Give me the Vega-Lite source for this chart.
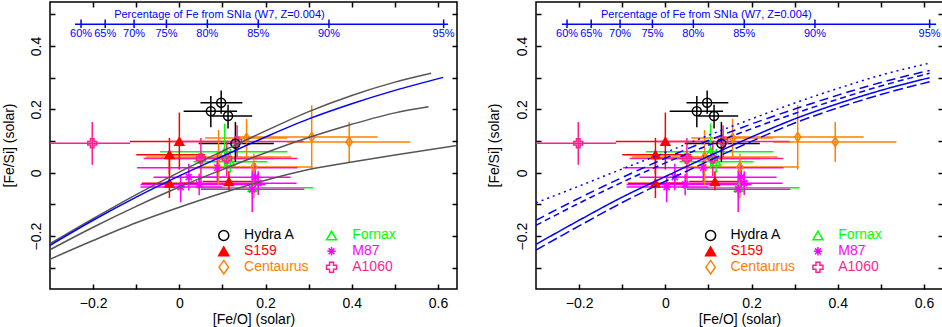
{
"$schema": "https://vega.github.io/schema/vega-lite/v6.json",
"background": "white",
"padding": {"left": 1, "top": 0, "right": 0, "bottom": 0},
"autosize": {"type": "pad"},
"config": {
  "font": "Liberation Sans",
  "view": {"stroke": "black", "strokeWidth": 1.5},
  "axis": {"domain": false, "grid": false, "tickColor": "black", "tickWidth": 1.5, "tickSize": -5, "labelFontSize": 14, "labelColor": "black", "labelFont": "Liberation Sans", "titleFont": "Liberation Sans", "titleFontSize": 14, "titleFontWeight": "normal", "titleColor": "black", "labelFlush": false, "labelOverlap": false},
  "text": {"font": "Liberation Sans"}
},
"datasets": {
  "pts": [
    {"c":"Fornax","x":0.105,"y":0.066,"xlo":-0.045,"xhi":0.250,"ylo":0.013,"yhi":0.155},
    {"c":"Fornax","x":0.118,"y":0.035,"xlo":0.033,"xhi":0.204,"ylo":0.000,"yhi":0.075},
    {"c":"Fornax","x":0.170,"y":-0.047,"xlo":0.040,"xhi":0.310,"ylo":-0.085,"yhi":-0.005},
    {"c":"Centaurus","x":0.307,"y":0.113,"xlo":0.140,"xhi":0.460,"ylo":0.010,"yhi":0.213},
    {"c":"Centaurus","x":0.394,"y":0.097,"xlo":0.250,"xhi":0.536,"ylo":0.034,"yhi":0.160},
    {"c":"Centaurus","x":0.156,"y":0.110,"xlo":0.060,"xhi":0.250,"ylo":0.050,"yhi":0.170},
    {"c":"Centaurus","x":0.173,"y":0.018,"xlo":0.040,"xhi":0.309,"ylo":-0.080,"yhi":0.060},
    {"c":"Centaurus","x":0.091,"y":0.050,"xlo":-0.077,"xhi":0.260,"ylo":-0.040,"yhi":0.135},
    {"c":"M87","x":0.003,"y":-0.045,"xlo":-0.090,"xhi":0.100,"ylo":-0.093,"yhi":-0.008},
    {"c":"M87","x":0.046,"y":-0.037,"xlo":-0.090,"xhi":0.200,"ylo":-0.071,"yhi":-0.003},
    {"c":"M87","x":0.176,"y":-0.014,"xlo":0.022,"xhi":0.258,"ylo":-0.060,"yhi":0.030},
    {"c":"M87","x":0.183,"y":-0.033,"xlo":0.000,"xhi":0.272,"ylo":-0.070,"yhi":0.005},
    {"c":"M87","x":0.169,"y":-0.052,"xlo":0.050,"xhi":0.290,"ylo":-0.124,"yhi":0.008},
    {"c":"M87","x":0.088,"y":0.016,"xlo":-0.098,"xhi":0.274,"ylo":-0.030,"yhi":0.060},
    {"c":"M87","x":0.022,"y":-0.014,"xlo":-0.060,"xhi":0.110,"ylo":-0.056,"yhi":0.028},
    {"c":"S159","x":0.000,"y":0.099,"xlo":-0.115,"xhi":0.115,"ylo":0.010,"yhi":0.190},
    {"c":"S159","x":-0.023,"y":0.057,"xlo":-0.100,"xhi":0.060,"ylo":-0.005,"yhi":0.110},
    {"c":"S159","x":-0.023,"y":-0.033,"xlo":-0.087,"xhi":0.041,"ylo":-0.080,"yhi":0.045},
    {"c":"S159","x":0.115,"y":-0.028,"xlo":0.055,"xhi":0.190,"ylo":-0.055,"yhi":0.005},
    {"c":"A1060","x":-0.202,"y":0.093,"xlo":-0.300,"xhi":-0.114,"ylo":0.025,"yhi":0.160},
    {"c":"A1060","x":0.134,"y":0.099,"xlo":-0.020,"xhi":0.288,"ylo":0.050,"yhi":0.150},
    {"c":"A1060","x":0.050,"y":0.045,"xlo":-0.083,"xhi":0.220,"ylo":-0.030,"yhi":0.110},
    {"c":"A1060","x":0.110,"y":0.045,"xlo":-0.030,"xhi":0.274,"ylo":-0.010,"yhi":0.100},
    {"c":"Hydra A","x":0.073,"y":0.194,"xlo":0.010,"xhi":0.134,"ylo":0.144,"yhi":0.242},
    {"c":"Hydra A","x":0.097,"y":0.221,"xlo":0.049,"xhi":0.146,"ylo":0.186,"yhi":0.260},
    {"c":"Hydra A","x":0.113,"y":0.179,"xlo":0.076,"xhi":0.169,"ylo":0.140,"yhi":0.215},
    {"c":"Hydra A","x":0.130,"y":0.092,"xlo":0.045,"xhi":0.219,"ylo":0.034,"yhi":0.160}
  ],
  "pct": [
    {"p":"60%","f":-0.228},{"p":"65%","f":-0.172},{"p":"70%","f":-0.105},{"p":"75%","f":-0.030},
    {"p":"80%","f":0.065},{"p":"85%","f":0.183},{"p":"90%","f":0.347},{"p":"95%","f":0.613}
  ],
  "one": [{"k":1}],
  "blueL": [
    {"x":-0.3,"y":-0.229},{"x":-0.2,"y":-0.150},{"x":-0.1,"y":-0.077},{"x":0,"y":-0.010},{"x":0.1,"y":0.052},
    {"x":0.2,"y":0.113},{"x":0.3,"y":0.170},{"x":0.4,"y":0.218},{"x":0.5,"y":0.260},{"x":0.612,"y":0.301}
  ],
  "grayL": [
    {"s":"g1","x":-0.3,"y":-0.224},{"s":"g1","x":-0.2,"y":-0.145},{"s":"g1","x":-0.1,"y":-0.069},{"s":"g1","x":0,"y":0.002},{"s":"g1","x":0.1,"y":0.068},
    {"s":"g1","x":0.2,"y":0.132},{"s":"g1","x":0.3,"y":0.193},{"s":"g1","x":0.4,"y":0.244},{"s":"g1","x":0.5,"y":0.286},{"s":"g1","x":0.584,"y":0.314},
    {"s":"g2","x":-0.3,"y":-0.243},{"s":"g2","x":-0.2,"y":-0.172},{"s":"g2","x":-0.1,"y":-0.106},{"s":"g2","x":0,"y":-0.045},{"s":"g2","x":0.1,"y":0.010},
    {"s":"g2","x":0.2,"y":0.063},{"s":"g2","x":0.3,"y":0.111},{"s":"g2","x":0.4,"y":0.153},{"s":"g2","x":0.5,"y":0.189},{"s":"g2","x":0.578,"y":0.208},
    {"s":"g3","x":-0.3,"y":-0.273},{"s":"g3","x":-0.2,"y":-0.214},{"s":"g3","x":-0.1,"y":-0.158},{"s":"g3","x":0,"y":-0.109},{"s":"g3","x":0.1,"y":-0.064},
    {"s":"g3","x":0.2,"y":-0.024},{"s":"g3","x":0.3,"y":0.010},{"s":"g3","x":0.4,"y":0.034},{"s":"g3","x":0.5,"y":0.056},{"s":"g3","x":0.644,"y":0.086}
  ],
  "blueR": [
    {"s":"solid","x":-0.3,"y":-0.226},{"s":"solid","x":-0.2,"y":-0.150},{"s":"solid","x":-0.1,"y":-0.077},{"s":"solid","x":0,"y":-0.012},{"s":"solid","x":0.1,"y":0.052},
    {"s":"solid","x":0.2,"y":0.113},{"s":"solid","x":0.3,"y":0.170},{"s":"solid","x":0.4,"y":0.218},{"s":"solid","x":0.5,"y":0.260},{"s":"solid","x":0.613,"y":0.300},
    {"s":"dashedLow","x":-0.3,"y":-0.244},{"s":"dashedLow","x":-0.2,"y":-0.168},{"s":"dashedLow","x":-0.1,"y":-0.094},{"s":"dashedLow","x":0,"y":-0.027},{"s":"dashedLow","x":0.1,"y":0.037},
    {"s":"dashedLow","x":0.2,"y":0.099},{"s":"dashedLow","x":0.3,"y":0.157},{"s":"dashedLow","x":0.4,"y":0.205},{"s":"dashedLow","x":0.5,"y":0.247},{"s":"dashedLow","x":0.613,"y":0.287},
    {"s":"dashedHigh","x":-0.3,"y":-0.150},{"s":"dashedHigh","x":-0.2,"y":-0.080},{"s":"dashedHigh","x":-0.1,"y":-0.015},{"s":"dashedHigh","x":0,"y":0.046},{"s":"dashedHigh","x":0.1,"y":0.102},
    {"s":"dashedHigh","x":0.2,"y":0.154},{"s":"dashedHigh","x":0.3,"y":0.201},{"s":"dashedHigh","x":0.4,"y":0.245},{"s":"dashedHigh","x":0.5,"y":0.285},{"s":"dashedHigh","x":0.613,"y":0.323},
    {"s":"dashedMid","x":-0.3,"y":-0.166},{"s":"dashedMid","x":-0.2,"y":-0.096},{"s":"dashedMid","x":-0.1,"y":-0.030},{"s":"dashedMid","x":0,"y":0.031},{"s":"dashedMid","x":0.1,"y":0.087},
    {"s":"dashedMid","x":0.2,"y":0.139},{"s":"dashedMid","x":0.3,"y":0.187},{"s":"dashedMid","x":0.4,"y":0.232},{"s":"dashedMid","x":0.5,"y":0.274},{"s":"dashedMid","x":0.613,"y":0.314},
    {"s":"dottedHigh","x":-0.3,"y":-0.095},{"s":"dottedHigh","x":-0.2,"y":-0.042},{"s":"dottedHigh","x":-0.1,"y":0.012},{"s":"dottedHigh","x":0,"y":0.064},{"s":"dottedHigh","x":0.1,"y":0.118},
    {"s":"dottedHigh","x":0.2,"y":0.170},{"s":"dottedHigh","x":0.3,"y":0.220},{"s":"dottedHigh","x":0.4,"y":0.266},{"s":"dottedHigh","x":0.5,"y":0.308},{"s":"dottedHigh","x":0.613,"y":0.346}
  ]
},
"spacing": 27,
"resolve": {
  "scale": {"color": "independent", "stroke": "independent", "fill": "independent", "shape": "independent", "strokeDash": "independent"}
},
"hconcat": [
{
  "width": 407, "height": 287,
  "resolve": {"axis": {"x": "independent", "y": "independent"}},
  "layer": [
    {"data": {"name": "pts"}, "mark": {"type": "rule", "strokeWidth": 1.5, "clip": true},
     "encoding": {
       "x": {"field": "xlo", "type": "quantitative", "scale": {"domain": [-0.3, 0.644], "nice": false, "zero": false}, "axis": {"orient": "top", "values": [-0.2,-0.1,0,0.1,0.2,0.3,0.4,0.5,0.6], "labels": false, "title": null}},
       "x2": {"field": "xhi"},
       "y": {"field": "y", "type": "quantitative", "scale": {"domain": [-0.367, 0.539], "nice": false, "zero": false}, "axis": {"orient": "right", "values": [-0.3,-0.2,-0.1,0,0.1,0.2,0.3,0.4,0.5], "labels": false, "title": null}},
       "color": {"field": "c", "type": "nominal", "scale": {"domain": ["Hydra A","Fornax","S159","M87","Centaurus","A1060"], "range": ["#000000","#00ff00","#ff0000","#ff00ff","#ff8000","#ff1f8f"]}, "legend": null}
     }},
    {"data": {"name": "pts"}, "mark": {"type": "rule", "strokeWidth": 1.5, "clip": true},
     "encoding": {
       "x": {"field": "x", "type": "quantitative", "scale": {"domain": [-0.3, 0.644], "nice": false, "zero": false}, "axis": null},
       "y": {"field": "ylo", "type": "quantitative", "scale": {"domain": [-0.367, 0.539], "nice": false, "zero": false}, "axis": null},
       "y2": {"field": "yhi"},
       "color": {"field": "c", "type": "nominal", "scale": {"domain": ["Hydra A","Fornax","S159","M87","Centaurus","A1060"], "range": ["#000000","#00ff00","#ff0000","#ff00ff","#ff8000","#ff1f8f"]}, "legend": null}
     }},
    {"data": {"name": "pts"}, "mark": {"type": "point", "strokeWidth": 1.5, "size": 80, "opacity": 1, "clip": true},
     "encoding": {
       "x": {"field": "x", "type": "quantitative", "scale": {"domain": [-0.3, 0.644], "nice": false, "zero": false}, "axis": {"orient": "bottom", "values": [-0.2,-0.1,0,0.1,0.2,0.3,0.4,0.5,0.6], "labelPadding": 12, "labelExpr": "datum.value == 0 ? '0' : (abs(round(datum.value*10)) % 2 == 1 ? '' : format(datum.value, '.1f'))", "title": "[Fe/O] (solar)", "titleY": 30, "titleBaseline": "middle"}},
       "y": {"field": "y", "type": "quantitative", "scale": {"domain": [-0.367, 0.539], "nice": false, "zero": false}, "axis": {"orient": "left", "values": [-0.3,-0.2,-0.1,0,0.1,0.2,0.3,0.4,0.5], "labelAngle": -90, "labelAlign": "center", "labelBaseline": "bottom", "labelPadding": 12, "labelExpr": "datum.value == 0 ? '0' : (abs(round(datum.value*10)) % 2 == 1 ? '' : format(datum.value, '.1f'))", "title": "[Fe/Si] (solar)", "titleX": -41, "titleY": 143, "titleAngle": -90, "titleBaseline": "middle", "titleAlign": "center"}},
       "shape": {"field": "c", "type": "nominal", "scale": {"domain": ["Hydra A","Fornax","S159","M87","Centaurus","A1060"], "range": ["circle","triangle-up","triangle-up","M-1,0L1,0M0,-1L0,1M-0.7,-0.7L0.7,0.7M-0.7,0.7L0.7,-0.7","M0,-1L0.7,0L0,1L-0.7,0Z","cross"]}, "legend": null},
       "stroke": {"field": "c", "type": "nominal", "scale": {"domain": ["Hydra A","Fornax","S159","M87","Centaurus","A1060"], "range": ["#000000","#00ff00","#ff0000","#ff00ff","#ff8000","#ff1f8f"]}, "legend": null},
       "fill": {"field": "c", "type": "nominal", "scale": {"domain": ["Hydra A","Fornax","S159","M87","Centaurus","A1060"], "range": ["transparent","transparent","#ff0000","transparent","transparent","transparent"]}, "legend": null}
     }},
    {"data": {"name": "grayL"}, "mark": {"type": "line", "color": "#555555", "strokeWidth": 1.5, "interpolate": "monotone", "clip": true},
     "encoding": {
       "x": {"field": "x", "type": "quantitative", "scale": {"domain": [-0.3, 0.644], "nice": false, "zero": false}, "axis": null},
       "y": {"field": "y", "type": "quantitative", "scale": {"domain": [-0.367, 0.539], "nice": false, "zero": false}, "axis": null},
       "detail": {"field": "s", "type": "nominal"}
     }},
    {"data": {"name": "blueL"}, "mark": {"type": "line", "color": "#0000ff", "strokeWidth": 1.5, "interpolate": "monotone", "clip": true},
     "encoding": {
       "x": {"field": "x", "type": "quantitative", "scale": {"domain": [-0.3, 0.644], "nice": false, "zero": false}, "axis": null},
       "y": {"field": "y", "type": "quantitative", "scale": {"domain": [-0.367, 0.539], "nice": false, "zero": false}, "axis": null}
     }},
    {"data": {"name": "one"}, "mark": {"type": "rule", "color": "#0000ff", "strokeWidth": 1.5},
     "encoding": {
       "x": {"datum": -0.242, "type": "quantitative", "scale": {"domain": [-0.3, 0.644], "nice": false, "zero": false}, "axis": null},
       "x2": {"datum": 0.623},
       "y": {"datum": 0.4686, "type": "quantitative", "scale": {"domain": [-0.367, 0.539], "nice": false, "zero": false}, "axis": null}
     }},
    {"data": {"name": "pct"}, "mark": {"type": "rule", "color": "#0000ff", "strokeWidth": 1.5},
     "encoding": {
       "x": {"field": "f", "type": "quantitative", "scale": {"domain": [-0.3, 0.644], "nice": false, "zero": false}, "axis": null},
       "y": {"datum": 0.484, "type": "quantitative", "scale": {"domain": [-0.367, 0.539], "nice": false, "zero": false}, "axis": null},
       "y2": {"datum": 0.457}
     }},
    {"data": {"name": "pct"}, "mark": {"type": "text", "color": "#0000ff", "fontSize": 11, "baseline": "middle", "align": "center"},
     "encoding": {
       "x": {"field": "f", "type": "quantitative", "scale": {"domain": [-0.3, 0.644], "nice": false, "zero": false}, "axis": null},
       "y": {"datum": 0.438, "type": "quantitative", "scale": {"domain": [-0.367, 0.539], "nice": false, "zero": false}, "axis": null},
       "text": {"field": "p", "type": "nominal"}
     }},
    {"data": {"name": "one"}, "mark": {"type": "text", "color": "#0000ff", "fontSize": 11, "baseline": "middle", "align": "center", "text": "Percentage of Fe from SNIa (W7, Z=0.004)"},
     "encoding": {
       "x": {"datum": 0.093, "type": "quantitative", "scale": {"domain": [-0.3, 0.644], "nice": false, "zero": false}, "axis": null},
       "y": {"datum": 0.498, "type": "quantitative", "scale": {"domain": [-0.367, 0.539], "nice": false, "zero": false}, "axis": null}
     }},
    {"data": {"name": "one"}, "mark": {"type": "point", "shape": "circle", "stroke": "#000000", "fill": "transparent", "size": 100, "strokeWidth": 1.5, "opacity": 1},
     "encoding": {"x": {"datum": 0.103, "type": "quantitative", "scale": {"domain": [-0.3, 0.644], "nice": false, "zero": false}, "axis": null}, "y": {"datum": -0.198, "type": "quantitative", "scale": {"domain": [-0.367, 0.539], "nice": false, "zero": false}, "axis": null}}},
    {"data": {"name": "one"}, "mark": {"type": "point", "shape": "triangle-up", "stroke": "#ff0000", "fill": "#ff0000", "size": 100, "strokeWidth": 1.5, "opacity": 1},
     "encoding": {"x": {"datum": 0.103, "type": "quantitative", "scale": {"domain": [-0.3, 0.644], "nice": false, "zero": false}, "axis": null}, "y": {"datum": -0.248, "type": "quantitative", "scale": {"domain": [-0.367, 0.539], "nice": false, "zero": false}, "axis": null}}},
    {"data": {"name": "one"}, "mark": {"type": "point", "shape": "M0,-1L0.7,0L0,1L-0.7,0Z", "stroke": "#ff8000", "fill": "transparent", "size": 180, "strokeWidth": 1.5, "opacity": 1},
     "encoding": {"x": {"datum": 0.103, "type": "quantitative", "scale": {"domain": [-0.3, 0.644], "nice": false, "zero": false}, "axis": null}, "y": {"datum": -0.298, "type": "quantitative", "scale": {"domain": [-0.367, 0.539], "nice": false, "zero": false}, "axis": null}}},
    {"data": {"name": "one"}, "mark": {"type": "point", "shape": "triangle-up", "stroke": "#00ff00", "fill": "transparent", "size": 100, "strokeWidth": 1.5, "opacity": 1},
     "encoding": {"x": {"datum": 0.353, "type": "quantitative", "scale": {"domain": [-0.3, 0.644], "nice": false, "zero": false}, "axis": null}, "y": {"datum": -0.198, "type": "quantitative", "scale": {"domain": [-0.367, 0.539], "nice": false, "zero": false}, "axis": null}}},
    {"data": {"name": "one"}, "mark": {"type": "point", "shape": "M-1,0L1,0M0,-1L0,1M-0.7,-0.7L0.7,0.7M-0.7,0.7L0.7,-0.7", "stroke": "#ff00ff", "fill": "transparent", "size": 70, "strokeWidth": 1.5, "opacity": 1},
     "encoding": {"x": {"datum": 0.353, "type": "quantitative", "scale": {"domain": [-0.3, 0.644], "nice": false, "zero": false}, "axis": null}, "y": {"datum": -0.248, "type": "quantitative", "scale": {"domain": [-0.367, 0.539], "nice": false, "zero": false}, "axis": null}}},
    {"data": {"name": "one"}, "mark": {"type": "point", "shape": "cross", "stroke": "#ff1f8f", "fill": "transparent", "size": 100, "strokeWidth": 1.5, "opacity": 1},
     "encoding": {"x": {"datum": 0.353, "type": "quantitative", "scale": {"domain": [-0.3, 0.644], "nice": false, "zero": false}, "axis": null}, "y": {"datum": -0.298, "type": "quantitative", "scale": {"domain": [-0.367, 0.539], "nice": false, "zero": false}, "axis": null}}},
    {"data": {"name": "one"}, "mark": {"type": "text", "text": "Hydra A", "color": "#000000", "fontSize": 14, "align": "left", "baseline": "middle"},
     "encoding": {"x": {"datum": 0.150, "type": "quantitative", "scale": {"domain": [-0.3, 0.644], "nice": false, "zero": false}, "axis": null}, "y": {"datum": -0.198, "type": "quantitative", "scale": {"domain": [-0.367, 0.539], "nice": false, "zero": false}, "axis": null}}},
    {"data": {"name": "one"}, "mark": {"type": "text", "text": "S159", "color": "#ff0000", "fontSize": 14, "align": "left", "baseline": "middle"},
     "encoding": {"x": {"datum": 0.150, "type": "quantitative", "scale": {"domain": [-0.3, 0.644], "nice": false, "zero": false}, "axis": null}, "y": {"datum": -0.248, "type": "quantitative", "scale": {"domain": [-0.367, 0.539], "nice": false, "zero": false}, "axis": null}}},
    {"data": {"name": "one"}, "mark": {"type": "text", "text": "Centaurus", "color": "#ff8000", "fontSize": 14, "align": "left", "baseline": "middle"},
     "encoding": {"x": {"datum": 0.150, "type": "quantitative", "scale": {"domain": [-0.3, 0.644], "nice": false, "zero": false}, "axis": null}, "y": {"datum": -0.298, "type": "quantitative", "scale": {"domain": [-0.367, 0.539], "nice": false, "zero": false}, "axis": null}}},
    {"data": {"name": "one"}, "mark": {"type": "text", "text": "Fornax", "color": "#00ff00", "fontSize": 14, "align": "left", "baseline": "middle"},
     "encoding": {"x": {"datum": 0.401, "type": "quantitative", "scale": {"domain": [-0.3, 0.644], "nice": false, "zero": false}, "axis": null}, "y": {"datum": -0.198, "type": "quantitative", "scale": {"domain": [-0.367, 0.539], "nice": false, "zero": false}, "axis": null}}},
    {"data": {"name": "one"}, "mark": {"type": "text", "text": "M87", "color": "#ff00ff", "fontSize": 14, "align": "left", "baseline": "middle"},
     "encoding": {"x": {"datum": 0.401, "type": "quantitative", "scale": {"domain": [-0.3, 0.644], "nice": false, "zero": false}, "axis": null}, "y": {"datum": -0.248, "type": "quantitative", "scale": {"domain": [-0.367, 0.539], "nice": false, "zero": false}, "axis": null}}},
    {"data": {"name": "one"}, "mark": {"type": "text", "text": "A1060", "color": "#ff1f8f", "fontSize": 14, "align": "left", "baseline": "middle"},
     "encoding": {"x": {"datum": 0.401, "type": "quantitative", "scale": {"domain": [-0.3, 0.644], "nice": false, "zero": false}, "axis": null}, "y": {"datum": -0.298, "type": "quantitative", "scale": {"domain": [-0.367, 0.539], "nice": false, "zero": false}, "axis": null}}}
  ]
},
{
  "width": 407, "height": 287,
  "resolve": {"axis": {"x": "independent", "y": "independent"}},
  "layer": [
    {"data": {"name": "pts"}, "mark": {"type": "rule", "strokeWidth": 1.5, "clip": true},
     "encoding": {
       "x": {"field": "xlo", "type": "quantitative", "scale": {"domain": [-0.3, 0.644], "nice": false, "zero": false}, "axis": {"orient": "top", "values": [-0.2,-0.1,0,0.1,0.2,0.3,0.4,0.5,0.6], "labels": false, "title": null}},
       "x2": {"field": "xhi"},
       "y": {"field": "y", "type": "quantitative", "scale": {"domain": [-0.367, 0.539], "nice": false, "zero": false}, "axis": {"orient": "right", "values": [-0.3,-0.2,-0.1,0,0.1,0.2,0.3,0.4,0.5], "labels": false, "title": null}},
       "color": {"field": "c", "type": "nominal", "scale": {"domain": ["Hydra A","Fornax","S159","M87","Centaurus","A1060"], "range": ["#000000","#00ff00","#ff0000","#ff00ff","#ff8000","#ff1f8f"]}, "legend": null}
     }},
    {"data": {"name": "pts"}, "mark": {"type": "rule", "strokeWidth": 1.5, "clip": true},
     "encoding": {
       "x": {"field": "x", "type": "quantitative", "scale": {"domain": [-0.3, 0.644], "nice": false, "zero": false}, "axis": null},
       "y": {"field": "ylo", "type": "quantitative", "scale": {"domain": [-0.367, 0.539], "nice": false, "zero": false}, "axis": null},
       "y2": {"field": "yhi"},
       "color": {"field": "c", "type": "nominal", "scale": {"domain": ["Hydra A","Fornax","S159","M87","Centaurus","A1060"], "range": ["#000000","#00ff00","#ff0000","#ff00ff","#ff8000","#ff1f8f"]}, "legend": null}
     }},
    {"data": {"name": "pts"}, "mark": {"type": "point", "strokeWidth": 1.5, "size": 80, "opacity": 1, "clip": true},
     "encoding": {
       "x": {"field": "x", "type": "quantitative", "scale": {"domain": [-0.3, 0.644], "nice": false, "zero": false}, "axis": {"orient": "bottom", "values": [-0.2,-0.1,0,0.1,0.2,0.3,0.4,0.5,0.6], "labelPadding": 12, "labelExpr": "datum.value == 0 ? '0' : (abs(round(datum.value*10)) % 2 == 1 ? '' : format(datum.value, '.1f'))", "title": "[Fe/O] (solar)", "titleY": 30, "titleBaseline": "middle"}},
       "y": {"field": "y", "type": "quantitative", "scale": {"domain": [-0.367, 0.539], "nice": false, "zero": false}, "axis": {"orient": "left", "values": [-0.3,-0.2,-0.1,0,0.1,0.2,0.3,0.4,0.5], "labelAngle": -90, "labelAlign": "center", "labelBaseline": "bottom", "labelPadding": 12, "labelExpr": "datum.value == 0 ? '0' : (abs(round(datum.value*10)) % 2 == 1 ? '' : format(datum.value, '.1f'))", "title": "[Fe/Si] (solar)", "titleX": -42, "titleY": 143, "titleAngle": -90, "titleBaseline": "middle", "titleAlign": "center"}},
       "shape": {"field": "c", "type": "nominal", "scale": {"domain": ["Hydra A","Fornax","S159","M87","Centaurus","A1060"], "range": ["circle","triangle-up","triangle-up","M-1,0L1,0M0,-1L0,1M-0.7,-0.7L0.7,0.7M-0.7,0.7L0.7,-0.7","M0,-1L0.7,0L0,1L-0.7,0Z","cross"]}, "legend": null},
       "stroke": {"field": "c", "type": "nominal", "scale": {"domain": ["Hydra A","Fornax","S159","M87","Centaurus","A1060"], "range": ["#000000","#00ff00","#ff0000","#ff00ff","#ff8000","#ff1f8f"]}, "legend": null},
       "fill": {"field": "c", "type": "nominal", "scale": {"domain": ["Hydra A","Fornax","S159","M87","Centaurus","A1060"], "range": ["transparent","transparent","#ff0000","transparent","transparent","transparent"]}, "legend": null}
     }},
    {"data": {"name": "blueR"}, "mark": {"type": "line", "color": "#0000ff", "strokeWidth": 1.5, "interpolate": "monotone", "clip": true},
     "encoding": {
       "x": {"field": "x", "type": "quantitative", "scale": {"domain": [-0.3, 0.644], "nice": false, "zero": false}, "axis": null},
       "y": {"field": "y", "type": "quantitative", "scale": {"domain": [-0.367, 0.539], "nice": false, "zero": false}, "axis": null},
       "strokeDash": {"field": "s", "type": "nominal", "scale": {"domain": ["solid","dashedLow","dashedHigh","dashedMid","dottedHigh"], "range": [[1,0],[10,4],[9,5],[6,4],[2,4]]}, "legend": null}
     }},
    {"data": {"name": "one"}, "mark": {"type": "rule", "color": "#0000ff", "strokeWidth": 1.5},
     "encoding": {
       "x": {"datum": -0.240, "type": "quantitative", "scale": {"domain": [-0.3, 0.644], "nice": false, "zero": false}, "axis": null},
       "x2": {"datum": 0.628},
       "y": {"datum": 0.4686, "type": "quantitative", "scale": {"domain": [-0.367, 0.539], "nice": false, "zero": false}, "axis": null}
     }},
    {"data": {"name": "pct"}, "mark": {"type": "rule", "color": "#0000ff", "strokeWidth": 1.5},
     "encoding": {
       "x": {"field": "f", "type": "quantitative", "scale": {"domain": [-0.3, 0.644], "nice": false, "zero": false}, "axis": null},
       "y": {"datum": 0.484, "type": "quantitative", "scale": {"domain": [-0.367, 0.539], "nice": false, "zero": false}, "axis": null},
       "y2": {"datum": 0.457}
     }},
    {"data": {"name": "pct"}, "mark": {"type": "text", "color": "#0000ff", "fontSize": 11, "baseline": "middle", "align": "center"},
     "encoding": {
       "x": {"field": "f", "type": "quantitative", "scale": {"domain": [-0.3, 0.644], "nice": false, "zero": false}, "axis": null},
       "y": {"datum": 0.438, "type": "quantitative", "scale": {"domain": [-0.367, 0.539], "nice": false, "zero": false}, "axis": null},
       "text": {"field": "p", "type": "nominal"}
     }},
    {"data": {"name": "one"}, "mark": {"type": "text", "color": "#0000ff", "fontSize": 11, "baseline": "middle", "align": "center", "text": "Percentage of Fe from SNIa (W7, Z=0.004)"},
     "encoding": {
       "x": {"datum": 0.095, "type": "quantitative", "scale": {"domain": [-0.3, 0.644], "nice": false, "zero": false}, "axis": null},
       "y": {"datum": 0.498, "type": "quantitative", "scale": {"domain": [-0.367, 0.539], "nice": false, "zero": false}, "axis": null}
     }},
    {"data": {"name": "one"}, "mark": {"type": "point", "shape": "circle", "stroke": "#000000", "fill": "transparent", "size": 100, "strokeWidth": 1.5, "opacity": 1},
     "encoding": {"x": {"datum": 0.105, "type": "quantitative", "scale": {"domain": [-0.3, 0.644], "nice": false, "zero": false}, "axis": null}, "y": {"datum": -0.198, "type": "quantitative", "scale": {"domain": [-0.367, 0.539], "nice": false, "zero": false}, "axis": null}}},
    {"data": {"name": "one"}, "mark": {"type": "point", "shape": "triangle-up", "stroke": "#ff0000", "fill": "#ff0000", "size": 100, "strokeWidth": 1.5, "opacity": 1},
     "encoding": {"x": {"datum": 0.105, "type": "quantitative", "scale": {"domain": [-0.3, 0.644], "nice": false, "zero": false}, "axis": null}, "y": {"datum": -0.248, "type": "quantitative", "scale": {"domain": [-0.367, 0.539], "nice": false, "zero": false}, "axis": null}}},
    {"data": {"name": "one"}, "mark": {"type": "point", "shape": "M0,-1L0.7,0L0,1L-0.7,0Z", "stroke": "#ff8000", "fill": "transparent", "size": 180, "strokeWidth": 1.5, "opacity": 1},
     "encoding": {"x": {"datum": 0.105, "type": "quantitative", "scale": {"domain": [-0.3, 0.644], "nice": false, "zero": false}, "axis": null}, "y": {"datum": -0.298, "type": "quantitative", "scale": {"domain": [-0.367, 0.539], "nice": false, "zero": false}, "axis": null}}},
    {"data": {"name": "one"}, "mark": {"type": "point", "shape": "triangle-up", "stroke": "#00ff00", "fill": "transparent", "size": 100, "strokeWidth": 1.5, "opacity": 1},
     "encoding": {"x": {"datum": 0.354, "type": "quantitative", "scale": {"domain": [-0.3, 0.644], "nice": false, "zero": false}, "axis": null}, "y": {"datum": -0.198, "type": "quantitative", "scale": {"domain": [-0.367, 0.539], "nice": false, "zero": false}, "axis": null}}},
    {"data": {"name": "one"}, "mark": {"type": "point", "shape": "M-1,0L1,0M0,-1L0,1M-0.7,-0.7L0.7,0.7M-0.7,0.7L0.7,-0.7", "stroke": "#ff00ff", "fill": "transparent", "size": 70, "strokeWidth": 1.5, "opacity": 1},
     "encoding": {"x": {"datum": 0.354, "type": "quantitative", "scale": {"domain": [-0.3, 0.644], "nice": false, "zero": false}, "axis": null}, "y": {"datum": -0.248, "type": "quantitative", "scale": {"domain": [-0.367, 0.539], "nice": false, "zero": false}, "axis": null}}},
    {"data": {"name": "one"}, "mark": {"type": "point", "shape": "cross", "stroke": "#ff1f8f", "fill": "transparent", "size": 100, "strokeWidth": 1.5, "opacity": 1},
     "encoding": {"x": {"datum": 0.354, "type": "quantitative", "scale": {"domain": [-0.3, 0.644], "nice": false, "zero": false}, "axis": null}, "y": {"datum": -0.298, "type": "quantitative", "scale": {"domain": [-0.367, 0.539], "nice": false, "zero": false}, "axis": null}}},
    {"data": {"name": "one"}, "mark": {"type": "text", "text": "Hydra A", "color": "#000000", "fontSize": 14, "align": "left", "baseline": "middle"},
     "encoding": {"x": {"datum": 0.151, "type": "quantitative", "scale": {"domain": [-0.3, 0.644], "nice": false, "zero": false}, "axis": null}, "y": {"datum": -0.198, "type": "quantitative", "scale": {"domain": [-0.367, 0.539], "nice": false, "zero": false}, "axis": null}}},
    {"data": {"name": "one"}, "mark": {"type": "text", "text": "S159", "color": "#ff0000", "fontSize": 14, "align": "left", "baseline": "middle"},
     "encoding": {"x": {"datum": 0.151, "type": "quantitative", "scale": {"domain": [-0.3, 0.644], "nice": false, "zero": false}, "axis": null}, "y": {"datum": -0.248, "type": "quantitative", "scale": {"domain": [-0.367, 0.539], "nice": false, "zero": false}, "axis": null}}},
    {"data": {"name": "one"}, "mark": {"type": "text", "text": "Centaurus", "color": "#ff8000", "fontSize": 14, "align": "left", "baseline": "middle"},
     "encoding": {"x": {"datum": 0.151, "type": "quantitative", "scale": {"domain": [-0.3, 0.644], "nice": false, "zero": false}, "axis": null}, "y": {"datum": -0.298, "type": "quantitative", "scale": {"domain": [-0.367, 0.539], "nice": false, "zero": false}, "axis": null}}},
    {"data": {"name": "one"}, "mark": {"type": "text", "text": "Fornax", "color": "#00ff00", "fontSize": 14, "align": "left", "baseline": "middle"},
     "encoding": {"x": {"datum": 0.401, "type": "quantitative", "scale": {"domain": [-0.3, 0.644], "nice": false, "zero": false}, "axis": null}, "y": {"datum": -0.198, "type": "quantitative", "scale": {"domain": [-0.367, 0.539], "nice": false, "zero": false}, "axis": null}}},
    {"data": {"name": "one"}, "mark": {"type": "text", "text": "M87", "color": "#ff00ff", "fontSize": 14, "align": "left", "baseline": "middle"},
     "encoding": {"x": {"datum": 0.401, "type": "quantitative", "scale": {"domain": [-0.3, 0.644], "nice": false, "zero": false}, "axis": null}, "y": {"datum": -0.248, "type": "quantitative", "scale": {"domain": [-0.367, 0.539], "nice": false, "zero": false}, "axis": null}}},
    {"data": {"name": "one"}, "mark": {"type": "text", "text": "A1060", "color": "#ff1f8f", "fontSize": 14, "align": "left", "baseline": "middle"},
     "encoding": {"x": {"datum": 0.401, "type": "quantitative", "scale": {"domain": [-0.3, 0.644], "nice": false, "zero": false}, "axis": null}, "y": {"datum": -0.298, "type": "quantitative", "scale": {"domain": [-0.367, 0.539], "nice": false, "zero": false}, "axis": null}}}
  ]
}
]
}
